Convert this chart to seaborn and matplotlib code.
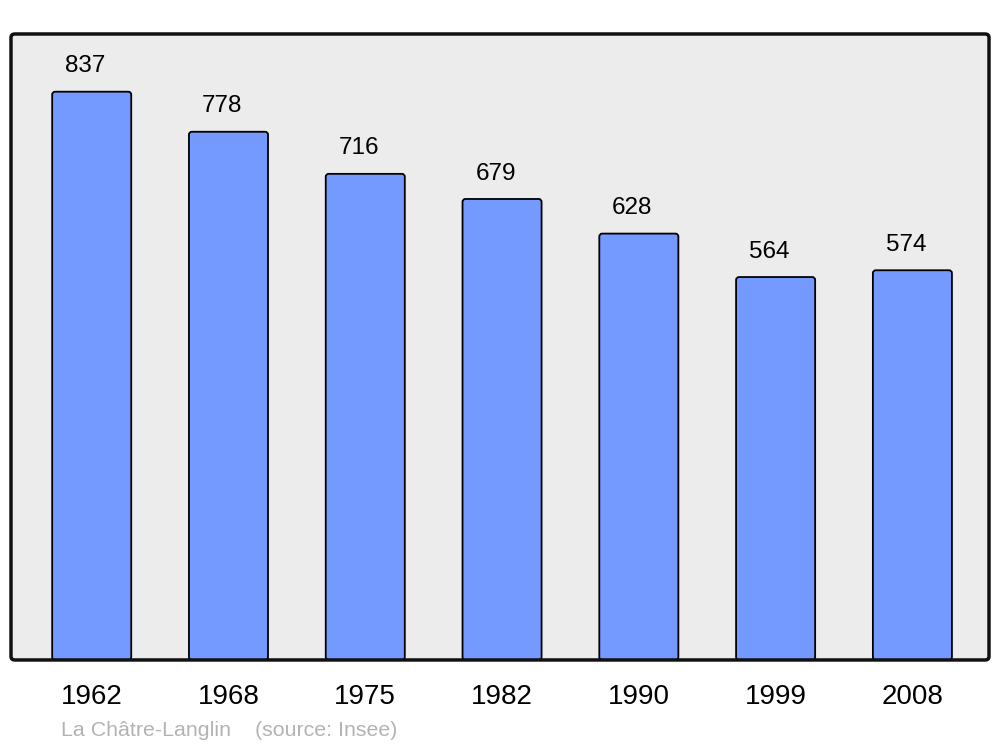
import matplotlib
matplotlib.use('Agg')
import matplotlib.pyplot as plt
from matplotlib.patches import FancyBboxPatch
import seaborn as sns
import pandas as pd

annees = ['1962', '1968', '1975', '1982', '1990', '1999', '2008']
population = [837, 778, 716, 679, 628, 564, 574]
commune = 'La Châtre-Langlin'
source = '(source: Insee)'

df = pd.DataFrame({'annee': annees, 'population': population})

sns.set_theme(style='white')
plt.rcParams['font.family'] = ['Liberation Sans', 'DejaVu Sans']

fig = plt.figure(figsize=(10, 7.47), dpi=100)
ax = fig.add_axes([0.011, 0.1165, 0.978, 0.838])
ax.set_facecolor('#ececec')

sns.barplot(data=df, x='annee', y='population', color='#7499ff', saturation=1,
            width=0.578, edgecolor='black', linewidth=1.3, ax=ax)

ax.set_xlim(-0.59, 6.56)
ax.set_ylim(0, 922)

# coins arrondis des barres
for p in list(ax.patches):
    x, y = p.get_x(), p.get_y()
    w, h = p.get_width(), p.get_height()
    ax.add_patch(FancyBboxPatch((x, y), w, h, boxstyle='round,pad=0,rounding_size=0.022',
                                mutation_aspect=200, facecolor='#7499ff',
                                edgecolor='black', linewidth=1.3, zorder=2))
    p.remove()

for i, v in enumerate(population):
    ax.annotate(str(v), (i, v), xytext=(-4.7, 14), textcoords='offset points',
                ha='center', va='baseline', fontsize=17.5, color='black')

for s in ax.spines.values():
    s.set_visible(False)
ax.add_patch(FancyBboxPatch((0, 0), 1, 1, boxstyle='round,pad=0,rounding_size=0.004',
                            transform=ax.transAxes, facecolor='none', edgecolor='#111111',
                            linewidth=2.5, zorder=5, clip_on=False, mutation_aspect=1.4))

ax.set_xlabel('')
ax.set_ylabel('')
ax.set_yticks([])
ax.tick_params(axis='x', length=0, pad=17.5, labelsize=20, labelcolor='black')

fig.text(0.061, 0.015, commune + '    ' + source, fontsize=15.4, color='#b3b3b3',
         ha='left', va='baseline')

fig.savefig('out.png', dpi=100)
